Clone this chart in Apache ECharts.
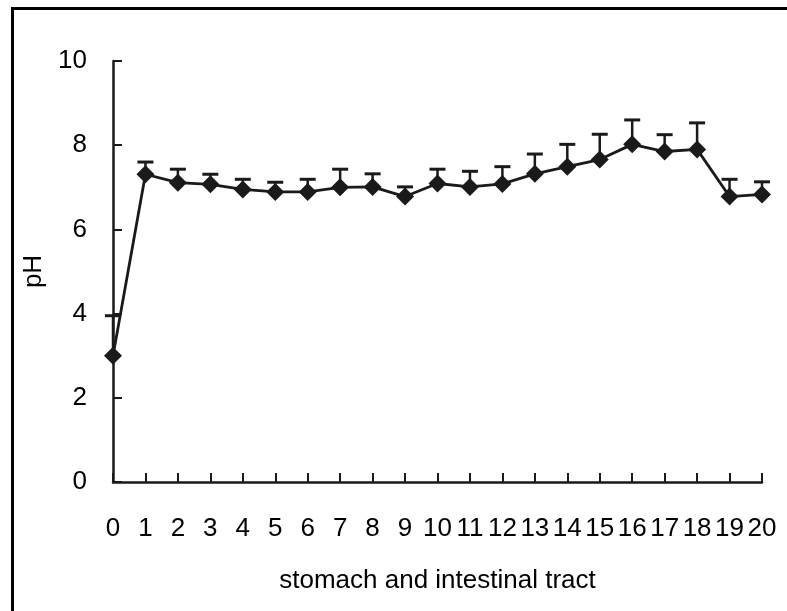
<!DOCTYPE html>
<html>
<head>
<meta charset="utf-8">
<script src="https://cdn.jsdelivr.net/npm/echarts@6/dist/echarts.min.js"></script>
<style>
html,body{margin:0;padding:0;background:#fff;}
#c{width:787px;height:611px;}
</style>
</head>
<body>
<div id="c"></div>
<script>
const categories = [0,1,2,3,4,5,6,7,8,9,10,11,12,13,14,15,16,17,18,19,20];
const meanPH = [3.0, 7.31, 7.11, 7.07, 6.95, 6.89, 6.89, 7.0, 7.01, 6.78, 7.09, 7.01, 7.08, 7.32, 7.49, 7.66, 8.02, 7.85, 7.9, 6.78, 6.83];
const sdPH = [0.95, 0.29, 0.32, 0.24, 0.24, 0.23, 0.30, 0.43, 0.31, 0.23, 0.34, 0.37, 0.41, 0.47, 0.53, 0.60, 0.58, 0.40, 0.63, 0.41, 0.30];
const yTicks = [0, 2, 4, 6, 8, 10];

const ink = '#1a1a1a';
const font = 'Liberation Sans, Arial, sans-serif';

const chart = echarts.init(document.getElementById('c'));
chart.setOption({
  animation: false,
  backgroundColor: '#fff',
  graphic: [{
    type: 'rect', left: 10, top: 6, z: 100, silent: true,
    shape: {x: 0, y: 0, width: 820, height: 700},
    style: {fill: 'none', stroke: '#000', lineWidth: 3}
  }],
  grid: {left: 113, right: 25, top: 61, bottom: 129},
  xAxis: {
    type: 'value', min: 0, max: 20, interval: 1,
    name: 'stomach and intestinal tract', nameLocation: 'middle', nameGap: 86,
    nameTextStyle: {fontFamily: font, fontSize: 26, color: '#000'},
    axisLine: {lineStyle: {color: ink, width: 2.5}},
    axisTick: {inside: true, length: 9, lineStyle: {color: ink, width: 2}},
    axisLabel: {margin: 34, fontFamily: font, fontSize: 26, color: '#000',
      formatter: v => categories.indexOf(v) >= 0 ? String(v) : ''},
    splitLine: {show: false}
  },
  yAxis: {
    type: 'value', min: yTicks[0], max: yTicks[yTicks.length-1], interval: 2,
    name: 'pH', nameLocation: 'middle', nameGap: 57,
    nameTextStyle: {fontFamily: font, fontSize: 26, color: '#000'},
    axisLine: {show: true, lineStyle: {color: ink, width: 2.5}},
    axisTick: {show: true, inside: true, length: 9, lineStyle: {color: ink, width: 2}},
    axisLabel: {margin: 26, fontFamily: font, fontSize: 26, color: '#000'},
    splitLine: {show: false}
  },
  series: [
    {
      type: 'custom',
      z: 1,
      data: categories.map((c, i) => [c, meanPH[i], meanPH[i] + sdPH[i]]),
      renderItem: function (params, api) {
        const p0 = api.coord([api.value(0), api.value(1)]);
        const p1 = api.coord([api.value(0), api.value(2)]);
        const hw = 8;
        return {
          type: 'group',
          children: [
            {type: 'line', shape: {x1: p0[0], y1: p0[1], x2: p1[0], y2: p1[1]},
             style: {stroke: ink, lineWidth: 2.5}},
            {type: 'line', shape: {x1: p1[0]-hw, y1: p1[1], x2: p1[0]+hw, y2: p1[1]},
             style: {stroke: ink, lineWidth: 3}}
          ]
        };
      }
    },
    {
      type: 'line',
      z: 3,
      data: categories.map((c, i) => [c, meanPH[i]]),
      symbol: 'diamond',
      symbolSize: [18, 18],
      lineStyle: {color: ink, width: 2.8},
      itemStyle: {color: ink}
    }
  ]
});
</script>
</body>
</html>
